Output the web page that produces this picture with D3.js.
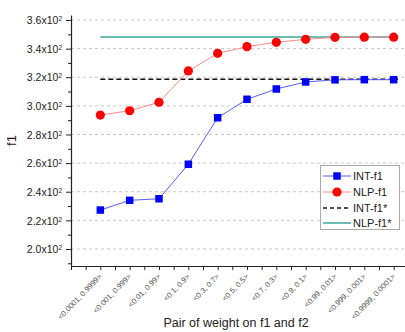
<!DOCTYPE html>
<html>
<head>
<meta charset="utf-8">
<script src="https://cdn.jsdelivr.net/npm/d3@7"></script>
<style>
  html, body { margin: 0; padding: 0; background: #fff; }
  svg { display: block; font-family: "Liberation Sans", Arial, sans-serif; }
</style>
</head>
<body>
<svg id="chart" width="405" height="332"></svg>
<script>
// Weight pairs on f1 and f2 (categories along the x axis)
const categories = [
  "<0.0001, 0.9999>", "<0.001, 0.999>", "<0.01, 0.99>", "<0.1, 0.9>",
  "<0.3, 0.7>", "<0.5, 0.5>", "<0.7, 0.3>", "<0.9, 0.1>",
  "<0.99, 0.01>", "<0.999, 0.001>", "<0.9999, 0.0001>"
];
// f1 obtained for each weight pair
const intF1 = [227.2, 234.0, 235.1, 259.2, 291.7, 304.6, 311.8, 316.7, 318.2, 318.3, 318.3];
const nlpF1 = [293.6, 296.6, 302.5, 324.4, 336.7, 341.4, 344.4, 346.5, 347.9, 348.0, 348.0];
// Reference optima
const intF1Star = 318.6;
const nlpF1Star = 348.1;
// Y axis ticks (mantissa of the x10^2 labels)
const yTicks = [200, 220, 240, 260, 280, 300, 320, 340, 360];
const seriesNames = ["INT-f1", "NLP-f1", "INT-f1*", "NLP-f1*"];

const svg = d3.select("#chart");

const x = d3.scaleLinear().domain([-1, 11]).range([71, 423]);
const y = d3.scaleLinear().domain([188.1, 363.5]).range([266, 15]);

const plotLeft = x(-1), plotRight = x(11), plotTop = y(363.5), plotBottom = y(188.1);

// Horizontal dashed grid
svg.append("g")
  .selectAll("line")
  .data(yTicks)
  .join("line")
  .attr("x1", plotLeft).attr("x2", plotRight)
  .attr("y1", d => y(d)).attr("y2", d => y(d))
  .attr("stroke", "#c8c8c8").attr("stroke-width", 1)
  .attr("stroke-dasharray", "3,3");

// Y axis with major and minor ticks
const yMinor = d3.range(190, 364, 10).filter(v => !yTicks.includes(v));
svg.append("g")
  .attr("transform", `translate(${plotLeft},0)`)
  .call(d3.axisLeft(y).tickValues(yMinor).tickSize(3).tickFormat(""))
  .call(g => g.select(".domain").remove())
  .call(g => g.selectAll("line").attr("stroke", "#222"));

const yAxis = svg.append("g")
  .attr("transform", `translate(${plotLeft},0)`)
  .call(d3.axisLeft(y).tickValues(yTicks).tickSize(5).tickSizeOuter(0).tickFormat(""));
yAxis.select(".domain").attr("stroke", "#222").attr("stroke-width", 1.2);
yAxis.selectAll("line").attr("stroke", "#222");
yAxis.selectAll(".tick").append("text")
  .attr("x", -9).attr("dy", "0.35em")
  .attr("text-anchor", "end")
  .attr("fill", "#222")
  .attr("font-size", 10.5)
  .each(function(d) {
    const t = d3.select(this);
    t.append("tspan").text((d / 100).toFixed(1) + "x10");
    t.append("tspan").attr("font-size", 6.5).attr("dy", "-0.45em").text("2");
  });

// X axis: ticks at every category and halfway between
const xTickVals = d3.range(-1, 11.01, 0.5);
const xAxis = svg.append("g")
  .attr("transform", `translate(0,${plotBottom})`)
  .call(d3.axisBottom(x).tickValues(xTickVals).tickSize(4).tickSizeOuter(0).tickFormat(""));
xAxis.select(".domain").attr("stroke", "#222").attr("stroke-width", 1.2);
xAxis.selectAll("line").attr("stroke", "#222");

// Rotated category labels
svg.append("g")
  .selectAll("text")
  .data(categories)
  .join("text")
  .attr("transform", (d, i) => `translate(${x(i) + 2},${plotBottom + 11}) rotate(-46)`)
  .attr("text-anchor", "end")
  .attr("font-size", 7.6)
  .attr("fill", "#555")
  .text(d => d);

// Axis titles
svg.append("text")
  .attr("x", 236).attr("y", 327)
  .attr("text-anchor", "middle")
  .attr("font-size", 12.5).attr("fill", "#222")
  .text("Pair of weight on f1 and f2");

svg.append("text")
  .attr("transform", `translate(16,${(plotTop + plotBottom) / 2}) rotate(-90)`)
  .attr("text-anchor", "middle")
  .attr("font-size", 13).attr("fill", "#222")
  .text("f1");

// Reference optimum lines
svg.append("line")
  .attr("x1", x(0)).attr("x2", x(10.15))
  .attr("y1", y(intF1Star)).attr("y2", y(intF1Star))
  .attr("stroke", "#111").attr("stroke-width", 1.3)
  .attr("stroke-dasharray", "5,3");
svg.append("line")
  .attr("x1", x(0)).attr("x2", x(10.15))
  .attr("y1", y(nlpF1Star)).attr("y2", y(nlpF1Star))
  .attr("stroke", "#3aa89e").attr("stroke-width", 1.5);

const line = d3.line().x((d, i) => x(i)).y(d => y(d));

// NLP-f1 series
svg.append("path")
  .datum(nlpF1)
  .attr("d", line)
  .attr("fill", "none").attr("stroke", "#ff8a8a").attr("stroke-width", 1);
svg.append("g")
  .selectAll("circle")
  .data(nlpF1)
  .join("circle")
  .attr("cx", (d, i) => x(i)).attr("cy", d => y(d))
  .attr("r", 4.6).attr("fill", "#ff0000");

// INT-f1 series
svg.append("path")
  .datum(intF1)
  .attr("d", line)
  .attr("fill", "none").attr("stroke", "#5a5aff").attr("stroke-width", 1);
const sq = 7.5;
svg.append("g")
  .selectAll("rect")
  .data(intF1)
  .join("rect")
  .attr("x", (d, i) => x(i) - sq / 2).attr("y", d => y(d) - sq / 2)
  .attr("width", sq).attr("height", sq)
  .attr("fill", "#0000ff");

// Legend
const lg = svg.append("g");
lg.append("rect")
  .attr("x", 320.5).attr("y", 165.5).attr("width", 79).attr("height", 64)
  .attr("fill", "#fff").attr("stroke", "#aaa").attr("stroke-width", 1);
const rows = [176, 192, 208, 223];
const sx1 = 323, sx2 = 351, sxm = (sx1 + sx2) / 2;
const styles = [
  { stroke: "#5a5aff", dash: null, w: 1 },
  { stroke: "#ff8a8a", dash: null, w: 1 },
  { stroke: "#111", dash: "4,3", w: 1.3 },
  { stroke: "#3aa89e", dash: null, w: 1.5 }
];
seriesNames.forEach((name, i) => {
  lg.append("line")
    .attr("x1", sx1).attr("x2", sx2).attr("y1", rows[i]).attr("y2", rows[i])
    .attr("stroke", styles[i].stroke).attr("stroke-width", styles[i].w)
    .attr("stroke-dasharray", styles[i].dash);
  lg.append("text")
    .attr("x", 353).attr("y", rows[i]).attr("dy", "0.35em")
    .attr("font-size", 11).attr("fill", "#222")
    .text(name);
});
lg.append("rect")
  .attr("x", sxm - sq / 2).attr("y", rows[0] - sq / 2)
  .attr("width", sq).attr("height", sq).attr("fill", "#0000ff");
lg.append("circle")
  .attr("cx", sxm).attr("cy", rows[1]).attr("r", 4.6).attr("fill", "#ff0000");
</script>
</body>
</html>
